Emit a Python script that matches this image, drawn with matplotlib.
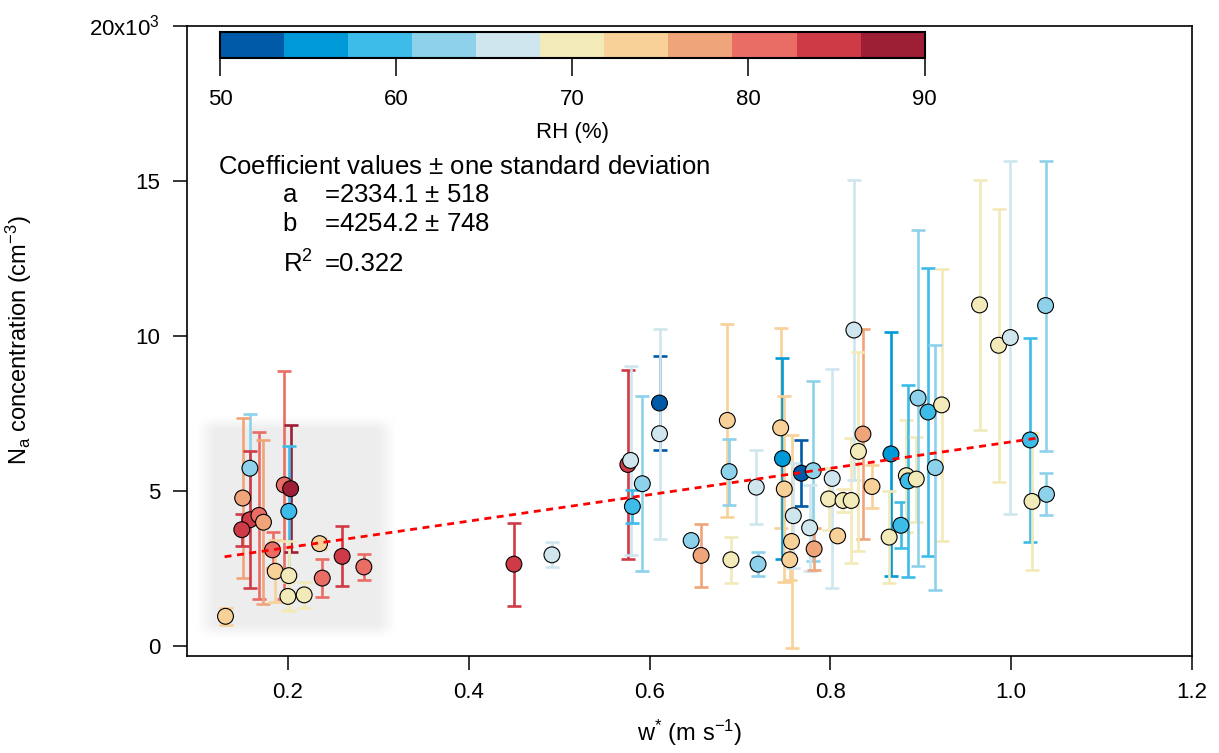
import numpy as np
import matplotlib
matplotlib.use('Agg')
import matplotlib.pyplot as plt
from matplotlib.colors import ListedColormap, BoundaryNorm
from matplotlib.cm import ScalarMappable
from matplotlib.ticker import FixedLocator, FuncFormatter

plt.rcParams['font.family'] = ['Liberation Sans', 'DejaVu Sans']
plt.rcParams['mathtext.fontset'] = 'custom'
plt.rcParams['mathtext.rm'] = 'Liberation Sans'
plt.rcParams['mathtext.it'] = 'Liberation Sans'
plt.rcParams['mathtext.bf'] = 'Liberation Sans:bold'

# w* (m s-1), Na (cm-3), one-sigma error, relative humidity (%)
w_star = [0.158, 0.150, 0.158, 0.149, 0.168, 0.173, 0.183, 0.186, 0.196, 0.203,
          0.201, 0.201, 0.200, 0.218, 0.235, 0.238, 0.260, 0.284, 0.131,
          0.450, 0.492, 0.576, 0.579, 0.592, 0.581, 0.611, 0.611, 0.646, 0.657,
          0.686, 0.688, 0.690, 0.718, 0.720, 0.745, 0.747, 0.749, 0.757, 0.755,
          0.768, 0.781, 0.759, 0.777, 0.782, 0.802, 0.798, 0.808, 0.814, 0.823,
          0.826, 0.836, 0.831, 0.846, 0.867, 0.865, 0.878, 0.884, 0.886, 0.895,
          0.897, 0.908, 0.923, 0.916, 0.965, 0.986, 0.999, 1.021, 1.023, 1.038,
          1.039]
na_conc = [5740, 4780, 4080, 3760, 4220, 4000, 3110, 2420, 5200, 5080,
           4350, 2280, 1610, 1660, 3310, 2200, 2900, 2560, 970,
           2650, 2950, 5860, 5990, 5240, 4510, 7840, 6850, 3410, 2930,
           7280, 5630, 2790, 5130, 2650, 7040, 6050, 5070, 3380, 2790,
           5580, 5660, 4210, 3820, 3140, 5410, 4750, 3560, 4700, 4700,
           10190, 6840, 6280, 5150, 6200, 3520, 3900, 5500, 5330, 5390,
           8000, 7550, 7780, 5760, 11000, 9700, 9950, 6650, 4670, 10980,
           4900]
na_err = [1740, 2590, 2200, 510, 2700, 2650, 570, 1000, 3680, 2040,
          2100, 1130, 450, 430, 180, 610, 970, 420, 270,
          1340, 400, 3050, 3050, 2810, 540, 1500, 3380, 100, 1020,
          3110, 1060, 750, 1200, 380, 3210, 3250, 3000, 3430, 650,
          1070, 2900, 1690, 1390, 670, 3530, 1000, 100, 370, 2000,
          4840, 3390, 3200, 700, 3940, 1490, 740, 1800, 3100, 1370,
          5410, 4630, 4380, 3950, 4030, 4400, 5670, 3300, 2220, 4670,
          680]
rh = [63, 77, 84.5, 84.5, 81, 77, 81, 73.5, 81, 88,
      59, 70, 70, 70, 73.5, 81, 84.5, 81, 73.5,
      84.5, 66.5, 84.5, 66.5, 63, 59, 52, 66.5, 63, 77,
      73.5, 63, 70, 66.5, 63, 73.5, 55.5, 73.5, 73.5, 73.5,
      52, 63, 66.5, 66.5, 77, 66.5, 70, 73.5, 70, 70,
      66.5, 77, 70, 73.5, 55.5, 70, 59, 70, 59, 70,
      63, 59, 70, 63, 70, 70, 66.5, 59, 70, 63,
      63]

# linear fit Na = a + b * w*
fit_a = 2334.1
fit_a_sd = 518
fit_b = 4254.2
fit_b_sd = 748
fit_r2 = 0.322
fit_x = [0.13, 1.03]

rh_colors = ['#005aa8', '#0099d8', '#3dbbe9', '#8dd1eb', '#cfe6ee', '#f2eab8',
             '#f8d198', '#f0a479', '#ea6d65', '#cf3a47', '#9c1f36']
rh_edges = np.linspace(50, 90, len(rh_colors) + 1)
cmap = ListedColormap(rh_colors)
norm = BoundaryNorm(rh_edges, cmap.N)

fig = plt.figure(figsize=(12.19, 7.53), dpi=100)
ax = fig.add_axes([0.1531, 0.1292, 0.8248, 0.8369])

# soft grey patch behind the low w* cluster
gx = np.linspace(0, 1, 300)
gy = np.linspace(0, 1, 300)
def ramp(t, e):
    return np.clip(np.minimum(t, 1 - t) / e, 0, 1)
patch = np.zeros((len(gy), len(gx), 4))
patch[..., :3] = 0.93
patch[..., 3] = np.outer(ramp(gy, 0.06), ramp(gx, 0.09))
ax.imshow(patch, extent=(0.099, 0.318, 280, 7400), origin='lower',
          aspect='auto', interpolation='bilinear', zorder=0)

for x, y, e, r in zip(w_star, na_conc, na_err, rh):
    ax.errorbar(x, y, yerr=e, fmt='none', ecolor=cmap(norm(r)),
                elinewidth=1.9, capsize=4.8, capthick=1.9, zorder=2)

ax.scatter(w_star, na_conc, c=rh, cmap=cmap, norm=norm, s=130,
           edgecolors='black', linewidths=0.8, zorder=3)

fx = np.array(fit_x)
ax.plot(fx, fit_a + fit_b * fx, color='red', lw=2.0,
        linestyle=(0, (2.5, 2.0)), zorder=4)

ax.set_xlim(0.088, 1.2)
ax.set_ylim(-300, 20000)
ax.xaxis.set_major_locator(FixedLocator([0.2, 0.4, 0.6, 0.8, 1.0, 1.2]))
ax.yaxis.set_major_locator(FixedLocator([0, 5000, 10000, 15000, 20000]))
ax.xaxis.set_major_formatter(FuncFormatter(lambda v, p: f'{v:.1f}'))
ax.yaxis.set_major_formatter(FuncFormatter(
    lambda v, p: r'20x10$^{3}$' if v == 20000 else f'{v / 1000:.0f}'))
ax.tick_params(direction='out', length=10, width=1.1, pad=9, labelsize=16,
               top=False, right=False)
for s in ax.spines.values():
    s.set_linewidth(1.2)

ax.set_xlabel(r'w$^{*}$ (m s$^{-1}$)', fontsize=17)
ax.set_ylabel(r'N$_{a}$ concentration (cm$^{-3}$)', fontsize=17)
ax.xaxis.set_label_coords(0.5, -0.098)
ax.yaxis.set_label_coords(-0.152, 0.5)

# fit coefficients
fig.text(0.179, 0.778, r'Coefficient values $\pm$ one standard deviation',
         fontsize=18.5, va='center')
rows = [('a', f'=2334.1 $\\pm$ {fit_a_sd}'),
        ('b', f'=4254.2 $\\pm$ {fit_b_sd}'),
        (r'R$^{2}$', f'={fit_r2}')]
for (lab, val), ypos in zip(rows, [0.741, 0.703, 0.650]):
    fig.text(0.232, ypos, lab, fontsize=18.5, va='center')
    fig.text(0.266, ypos, val, fontsize=18.5, va='center')

cax = fig.add_axes([0.1805, 0.9226, 0.578, 0.0345])
cb = fig.colorbar(ScalarMappable(norm=norm, cmap=cmap), cax=cax,
                  orientation='horizontal', ticks=[50, 60, 70, 80, 90],
                  drawedges=False)
cax.minorticks_off()
cb.outline.set_linewidth(1.5)
cax.tick_params(direction='out', length=13, width=1.1, pad=9, labelsize=16)
cb.set_ticklabels(['50', '60', '70', '80', '90'])
cb.set_label('RH (%)', fontsize=16, labelpad=9)

fig.savefig('out.png', dpi=100)
